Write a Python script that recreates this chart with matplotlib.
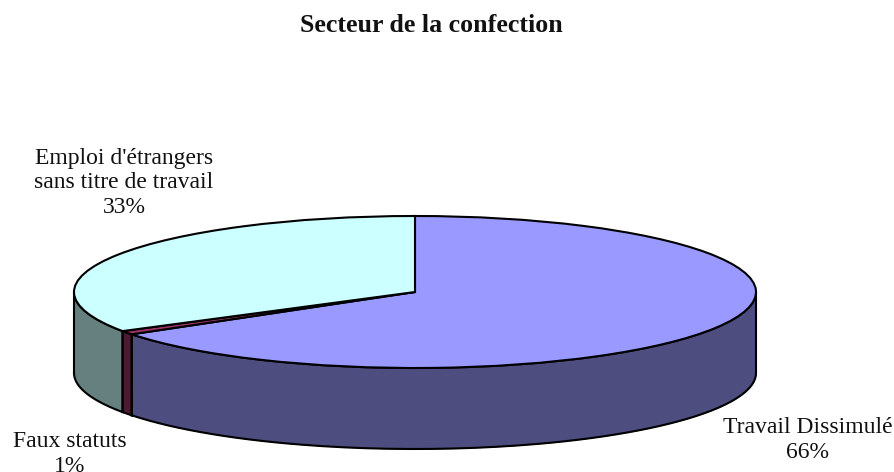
import numpy as np
import matplotlib
matplotlib.use("Agg")
import matplotlib.pyplot as plt

plt.rcParams["font.family"] = ["Liberation Serif", "DejaVu Serif"]

title = "Secteur de la confection"
# order is clockwise from the top of the pie
categories = ["Travail Dissimulé", "Faux statuts", "Emploi d'étrangers\nsans titre de travail"]
values = [65.6, 0.8, 33.6]
percent_labels = ["66%", "1%", "33%"]
top_colors = ["#9999ff", "#993366", "#ccffff"]
side_colors = ["#4d4d80", "#4d1a33", "#668080"]

W, H = 895, 472
CX, CY = 415, 292      # pie centre in pixels
RX, RY = 341, 76       # ellipse radii
DEPTH = 81 / RY        # thickness in pie units

fig = plt.figure(figsize=(W / 100, H / 100), dpi=100)
ax = fig.add_axes([0, 0, 1, 1])

# top face, squashed by the axis limits
wedges, _ = ax.pie(values, colors=top_colors, startangle=90, counterclock=False,
                   wedgeprops={"edgecolor": "black", "linewidth": 1.5, "zorder": 3})
ax.set_aspect("auto")
ax.set_xlim(-CX / RX, (W - CX) / RX)
ax.set_ylim(-(H - CY) / RY, CY / RY)
ax.axis("off")

# side wall, only the front half (180 to 360 degrees) shows
start = 90.0
for val, col in zip(values, side_colors):
    end = start - val * 3.6
    a0 = max(end, -180)
    a1 = min(start, 0)
    if a1 > a0:
        t = np.radians(np.linspace(a0, a1, 120))
        x = np.cos(t)
        y = np.sin(t)
        ax.fill_between(x, y - DEPTH, y, color=col, lw=0, zorder=1)
        bx = np.r_[x, x[::-1], x[0]]
        by = np.r_[y - DEPTH, y[::-1], (y - DEPTH)[0]]
        ax.plot(bx, by, color="black", lw=1.5, zorder=2, solid_joinstyle="round")
    start = end


def px(x, y):
    return x / W, 1 - y / H


fig.text(*px(431, 26), title, ha="center", va="center", fontsize=18.6, fontweight="bold",
         color="#111111")

label_pos = [(808, 440), (70, 454), (124, 183)]
for name, pct, pos in zip(categories, percent_labels, label_pos):
    fig.text(*px(*pos), name + "\n" + pct, ha="center", va="center", fontsize=17,
             linespacing=1.22, color="#111111")

fig.savefig("out.png", dpi=100)
